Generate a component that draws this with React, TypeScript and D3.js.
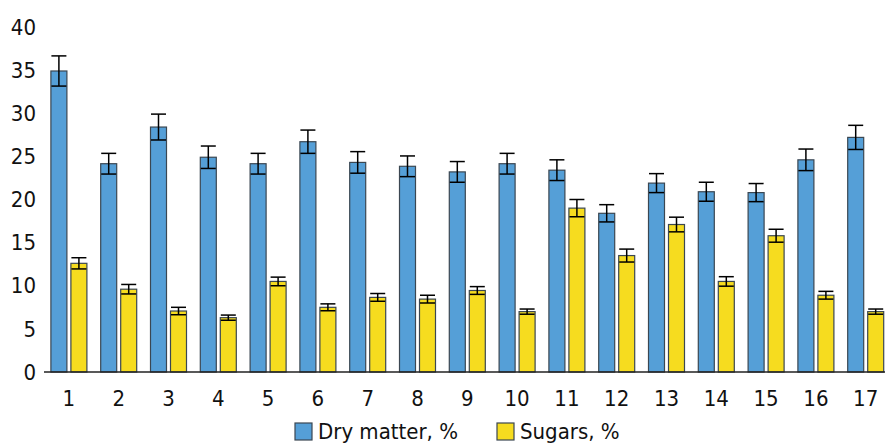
import React from 'react';
import * as d3 from 'd3';

const categories = ['1', '2', '3', '4', '5', '6', '7', '8', '9', '10', '11', '12', '13', '14', '15', '16', '17'];
const dryMatter = [34.9, 24.15, 28.4, 24.9, 24.15, 26.7, 24.3, 23.85, 23.2, 24.15, 23.4, 18.4, 21.9, 20.9, 20.8, 24.6, 27.2];
const dryMatterErr = [1.75, 1.2, 1.5, 1.3, 1.2, 1.35, 1.25, 1.2, 1.2, 1.2, 1.2, 1.0, 1.1, 1.1, 1.05, 1.25, 1.4];
const sugars = [12.6, 9.6, 7.07, 6.3, 10.5, 7.5, 8.65, 8.45, 9.45, 7.0, 19.0, 13.5, 17.1, 10.5, 15.8, 8.9, 7.0];
const sugarsErr = [0.65, 0.55, 0.43, 0.3, 0.5, 0.4, 0.45, 0.45, 0.45, 0.3, 1.0, 0.75, 0.85, 0.55, 0.75, 0.45, 0.3];
const yTicks = [0, 5, 10, 15, 20, 25, 30, 35, 40];
const seriesNames = ['Dry matter, %', 'Sugars, %'];
const seriesColors = ['#559fd7', '#f6dc1f'];

const width = 885;
const height = 444;
const font = '"DejaVu Sans Condensed", "DejaVu Sans", sans-serif';

const App: React.FC = () => {
  const x0 = d3
    .scaleBand<string>()
    .domain(categories)
    .range([44, 44 + categories.length * 49.8]);

  const bw = x0.bandwidth();
  const x1 = d3
    .scaleBand<number>()
    .domain([0, 1])
    .range([bw / 2 - 18, bw / 2 + 18])
    .paddingInner(0.2);

  const y = d3.scaleLinear().domain([0, 40]).range([372, 27]);

  const series = [
    { values: dryMatter, errs: dryMatterErr },
    { values: sugars, errs: sugarsErr },
  ];

  return (
    <svg
      width={width}
      height={height}
      style={{ position: 'absolute', left: 0, top: 0, background: '#fff' }}
    >
      {/* bars */}
      {series.map((s, si) =>
        categories.map((c, i) => {
          const bx = (x0(c) as number) + (x1(si) as number);
          const top = y(s.values[i]);
          return (
            <rect
              key={`b-${si}-${i}`}
              x={bx}
              y={top}
              width={x1.bandwidth()}
              height={y(0) - top}
              fill={seriesColors[si]}
              stroke="#3b4752"
              strokeWidth={1.2}
            />
          );
        })
      )}

      {/* error bars */}
      {series.map((s, si) =>
        categories.map((c, i) => {
          const cx = (x0(c) as number) + (x1(si) as number) + x1.bandwidth() / 2;
          const hi = y(s.values[i] + s.errs[i]);
          const lo = y(s.values[i] - s.errs[i]);
          const cap = 7.5;
          return (
            <g key={`e-${si}-${i}`} stroke="#000" strokeWidth={1.5}>
              <line x1={cx} x2={cx} y1={hi} y2={lo} />
              <line x1={cx - cap} x2={cx + cap} y1={hi} y2={hi} />
              <line x1={cx - cap} x2={cx + cap} y1={lo} y2={lo} />
            </g>
          );
        })
      )}

      {/* x axis */}
      <line x1={44} x2={width} y1={y(0)} y2={y(0)} stroke="#222" strokeWidth={1.3} />
      {categories.map((c) => (
        <text
          key={`xl-${c}`}
          x={(x0(c) as number) + bw / 2}
          y={406}
          textAnchor="middle"
          fontFamily={font}
          fontSize={22}
          fill="#111"
        >
          {c}
        </text>
      ))}

      {/* y labels */}
      {yTicks.map((t) => (
        <text
          key={`yl-${t}`}
          x={36}
          y={y(t)}
          dy="0.35em"
          textAnchor="end"
          fontFamily={font}
          fontSize={22}
          fill="#111"
        >
          {t}
        </text>
      ))}

      {/* legend */}
      {seriesNames.map((name, si) => {
        const lx = si === 0 ? 295 : 497;
        return (
          <g key={`lg-${si}`}>
            <rect
              x={lx}
              y={423}
              width={17}
              height={17}
              fill={seriesColors[si]}
              stroke="#3b4752"
              strokeWidth={1.2}
            />
            <text x={lx + 23} y={439} fontFamily={font} fontSize={22} fill="#111">
              {name}
            </text>
          </g>
        );
      })}
    </svg>
  );
};

export default App;
